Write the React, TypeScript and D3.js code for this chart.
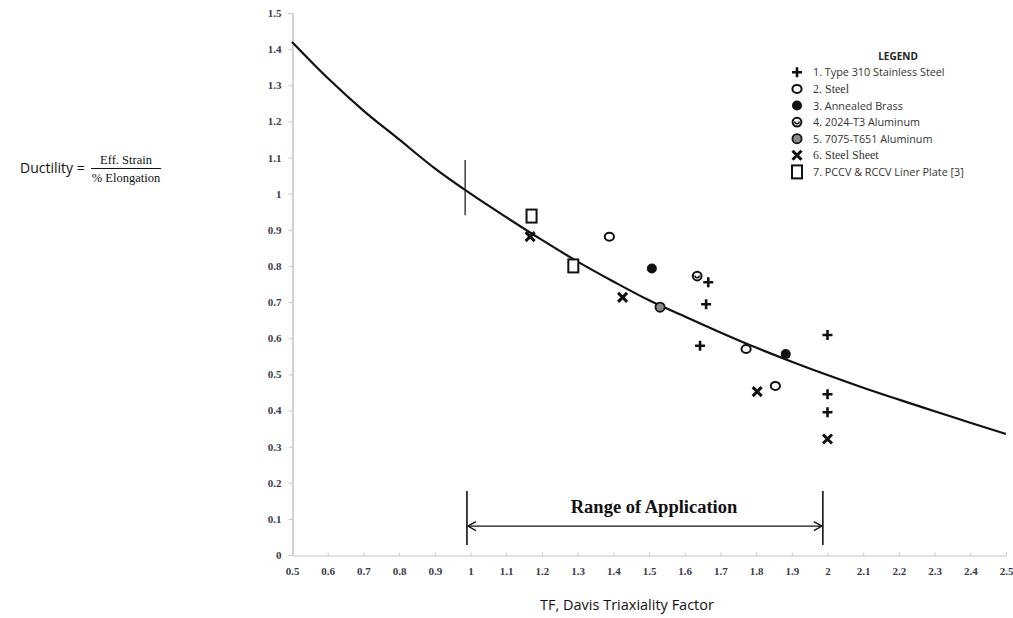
import React, { useRef, useEffect } from 'react';
import * as d3 from 'd3';

// axis ticks
const xTicks = [0.5, 0.6, 0.7, 0.8, 0.9, 1, 1.1, 1.2, 1.3, 1.4, 1.5, 1.6, 1.7, 1.8, 1.9, 2, 2.1, 2.2, 2.3, 2.4, 2.5];
const yTicks = [0, 0.1, 0.2, 0.3, 0.4, 0.5, 0.6, 0.7, 0.8, 0.9, 1, 1.1, 1.2, 1.3, 1.4, 1.5];

// fitted curve
const curveTF = [0.5, 0.6, 0.7, 0.8, 0.9, 1.0, 1.1, 1.2, 1.3, 1.4, 1.5, 1.6, 1.7, 1.8, 1.9, 2.0, 2.1, 2.2, 2.3, 2.4, 2.5];
const curveDuct = [1.42, 1.32, 1.23, 1.15, 1.07, 1.0, 0.935, 0.872, 0.812, 0.757, 0.705, 0.66, 0.616, 0.574, 0.535, 0.498, 0.463, 0.43, 0.398, 0.366, 0.335];

// test data per material
const s1TF = [1.666, 1.66, 1.643, 2.0, 2.0, 2.0];
const s1D = [0.755, 0.694, 0.579, 0.609, 0.445, 0.395];
const s2TF = [1.389, 1.772, 1.854];
const s2D = [0.881, 0.57, 0.468];
const s3TF = [1.508, 1.883];
const s3D = [0.793, 0.556];
const s4TF = [1.635];
const s4D = [0.772];
const s5TF = [1.531];
const s5D = [0.686];
const s6TF = [1.167, 1.426, 1.803, 2.0];
const s6D = [0.881, 0.713, 0.452, 0.321];
const s7TF = [1.171, 1.288];
const s7D = [0.938, 0.8];

const legendLabels = [
  '1. Type 310 Stainless Steel',
  '2.  Steel',
  '3. Annealed Brass',
  '4. 2024-T3 Aluminum',
  '5. 7075-T651 Aluminum',
  '6. Steel Sheet',
  '7. PCCV & RCCV Liner Plate [3]',
];

// annotations
const markTF = 0.985;
const markRange = [0.94, 1.093];
const rangeTF = [0.99, 1.987];

type G = d3.Selection<SVGGElement, unknown, null, undefined>;

function drawMarker(g: G, kind: number, x: number, y: number) {
  if (kind === 1) {
    g.append('path')
      .attr('d', `M${x - 5},${y}H${x + 5}M${x},${y - 5}V${y + 5}`)
      .attr('stroke', '#111').attr('stroke-width', 2.6).attr('fill', 'none');
  } else if (kind === 2) {
    g.append('ellipse').attr('cx', x).attr('cy', y).attr('rx', 4.6).attr('ry', 4)
      .attr('fill', '#fff').attr('stroke', '#111').attr('stroke-width', 2);
  } else if (kind === 3) {
    g.append('circle').attr('cx', x).attr('cy', y).attr('r', 5).attr('fill', '#111');
  } else if (kind === 4) {
    g.append('circle').attr('cx', x).attr('cy', y).attr('r', 4.4)
      .attr('fill', '#fff').attr('stroke', '#111').attr('stroke-width', 2);
    g.append('path')
      .attr('d', `M${x - 2.2},${y - 0.5}A2.2,2.2 0 0 0 ${x + 2.2},${y - 0.5}`)
      .attr('fill', 'none').attr('stroke', '#111').attr('stroke-width', 1.5);
  } else if (kind === 5) {
    g.append('circle').attr('cx', x).attr('cy', y).attr('r', 4.6)
      .attr('fill', '#8a8a8a').attr('stroke', '#111').attr('stroke-width', 1.8);
  } else if (kind === 6) {
    g.append('path')
      .attr('d', `M${x - 4.5},${y - 4.5}L${x + 4.5},${y + 4.5}M${x - 4.5},${y + 4.5}L${x + 4.5},${y - 4.5}`)
      .attr('stroke', '#111').attr('stroke-width', 3).attr('fill', 'none');
  } else {
    g.append('rect').attr('x', x - 5).attr('y', y - 6.5).attr('width', 10).attr('height', 13)
      .attr('fill', '#fff').attr('stroke', '#111').attr('stroke-width', 2);
  }
}

function drawChart(svgEl: SVGSVGElement) {
  const svg = d3.select(svgEl);
  svg.selectAll('*').remove();

  const x = d3.scaleLinear().domain([0.5, 2.5]).range([292, 1006]);
  const y = d3.scaleLinear().domain([0, 1.5]).range([555, 13]);

  svg.append('rect').attr('width', 1013).attr('height', 618).attr('fill', '#fff');

  const tickFont = '"Liberation Serif", serif';
  const sans = '"Open Sans", sans-serif';

  // y axis
  const yAxis = svg.append('g')
    .attr('transform', 'translate(292.5,0)')
    .call(d3.axisLeft(y).tickValues(yTicks).tickSize(4).tickSizeOuter(0).tickPadding(7)
      .tickFormat((d) => String(d)));
  yAxis.select('.domain').attr('stroke', '#b8b8b8').attr('stroke-width', 1.3);
  yAxis.selectAll('.tick line').attr('stroke', '#c8c8c8');
  yAxis.selectAll('.tick text')
    .attr('font-family', tickFont).attr('font-size', 11).attr('font-weight', 'bold').attr('fill', '#3a3a48');

  // x axis
  const xAxis = svg.append('g')
    .attr('transform', 'translate(0,555.5)')
    .call(d3.axisBottom(x).tickValues(xTicks).tickSize(-3).tickSizeOuter(0).tickPadding(12)
      .tickFormat((d) => String(d)));
  xAxis.select('.domain').attr('stroke', '#c4c4c4').attr('stroke-width', 1.2);
  xAxis.selectAll('.tick line').attr('stroke', '#c8c8c8');
  xAxis.selectAll('.tick text')
    .attr('font-family', tickFont).attr('font-size', 11).attr('font-weight', 'bold').attr('fill', '#3a3a48');

  // fitted curve
  const line = d3.line<number>()
    .x((_, i) => x(curveTF[i]))
    .y((d) => y(d))
    .curve(d3.curveMonotoneX);
  svg.append('path')
    .datum(curveDuct)
    .attr('d', line)
    .attr('fill', 'none')
    .attr('stroke', '#111')
    .attr('stroke-width', 2.2);

  // vertical mark near TF = 1
  svg.append('line')
    .attr('x1', x(markTF)).attr('x2', x(markTF))
    .attr('y1', y(markRange[0])).attr('y2', y(markRange[1]))
    .attr('stroke', '#222').attr('stroke-width', 1.3);

  // data points
  const pts = svg.append('g');
  const series: [number[], number[]][] = [
    [s1TF, s1D], [s2TF, s2D], [s3TF, s3D], [s4TF, s4D], [s5TF, s5D], [s6TF, s6D], [s7TF, s7D],
  ];
  series.forEach(([tf, dd], k) => {
    tf.forEach((t, i) => drawMarker(pts, k + 1, x(t), y(dd[i])));
  });

  // legend
  const lg = svg.append('g');
  lg.append('text')
    .attr('x', 898).attr('y', 59.5)
    .attr('text-anchor', 'middle')
    .attr('font-family', sans).attr('font-size', 10).attr('font-weight', 'bold')
    .attr('fill', '#222')
    .text('LEGEND');
  legendLabels.forEach((lbl, i) => {
    const ry = 72.3 + i * 16.6;
    drawMarker(lg, i + 1, 797, ry);
    const serif = i === 1 || i === 5;
    lg.append('text')
      .attr('x', 813).attr('y', ry + 4)
      .attr('font-family', serif ? '"Liberation Serif", serif' : sans)
      .attr('font-size', serif ? 12 : 10.8)
      .attr('fill', '#333')
      .text(lbl);
  });

  // range of application
  const ra = svg.append('g').attr('stroke', '#111').attr('fill', 'none');
  const xa = x(rangeTF[0]);
  const xb = x(rangeTF[1]);
  const ya = y(0.08);
  ra.append('line').attr('x1', xa).attr('x2', xa).attr('y1', y(0.177)).attr('y2', y(0.028)).attr('stroke-width', 1.6);
  ra.append('line').attr('x1', xb).attr('x2', xb).attr('y1', y(0.177)).attr('y2', y(0.028)).attr('stroke-width', 1.6);
  ra.append('line').attr('x1', xa + 1).attr('x2', xb - 1).attr('y1', ya).attr('y2', ya).attr('stroke-width', 1.4);
  ra.append('path')
    .attr('d', `M${xa + 9},${ya - 4.5}L${xa + 1},${ya}L${xa + 9},${ya + 4.5}M${xb - 9},${ya - 4.5}L${xb - 1},${ya}L${xb - 9},${ya + 4.5}`)
    .attr('stroke-width', 1.4);
  svg.append('text')
    .attr('x', 654).attr('y', 513)
    .attr('text-anchor', 'middle')
    .attr('font-family', '"Liberation Serif", serif').attr('font-size', 18.5).attr('font-weight', 'bold')
    .attr('fill', '#111')
    .text('Range of Application');

  // x title
  svg.append('text')
    .attr('x', 627).attr('y', 610)
    .attr('text-anchor', 'middle')
    .attr('font-family', sans).attr('font-size', 14.5)
    .attr('fill', '#111')
    .text('TF, Davis Triaxiality Factor');

  // y title as a fraction, left of the tick labels
  const yt = svg.append('g');
  yt.append('text')
    .attr('x', 20).attr('y', 173)
    .attr('font-family', sans).attr('font-size', 14)
    .attr('fill', '#111')
    .text('Ductility =');
  const fx = 126;
  yt.append('text')
    .attr('x', fx).attr('y', 164)
    .attr('text-anchor', 'middle')
    .attr('font-family', '"Liberation Serif", serif').attr('font-size', 12.5)
    .attr('fill', '#111')
    .text('Eff. Strain');
  yt.append('line')
    .attr('x1', fx - 35).attr('x2', fx + 35).attr('y1', 168.5).attr('y2', 168.5)
    .attr('stroke', '#111').attr('stroke-width', 1);
  yt.append('text')
    .attr('x', fx).attr('y', 182)
    .attr('text-anchor', 'middle')
    .attr('font-family', '"Liberation Serif", serif').attr('font-size', 12.5)
    .attr('fill', '#111')
    .text('% Elongation');
}

export default function App() {
  const ref = useRef<SVGSVGElement>(null);

  useEffect(() => {
    if (ref.current) drawChart(ref.current);
  }, []);

  return (
    <svg
      ref={ref}
      width={1013}
      height={618}
      style={{ position: 'absolute', left: 0, top: 0, display: 'block' }}
    />
  );
}
